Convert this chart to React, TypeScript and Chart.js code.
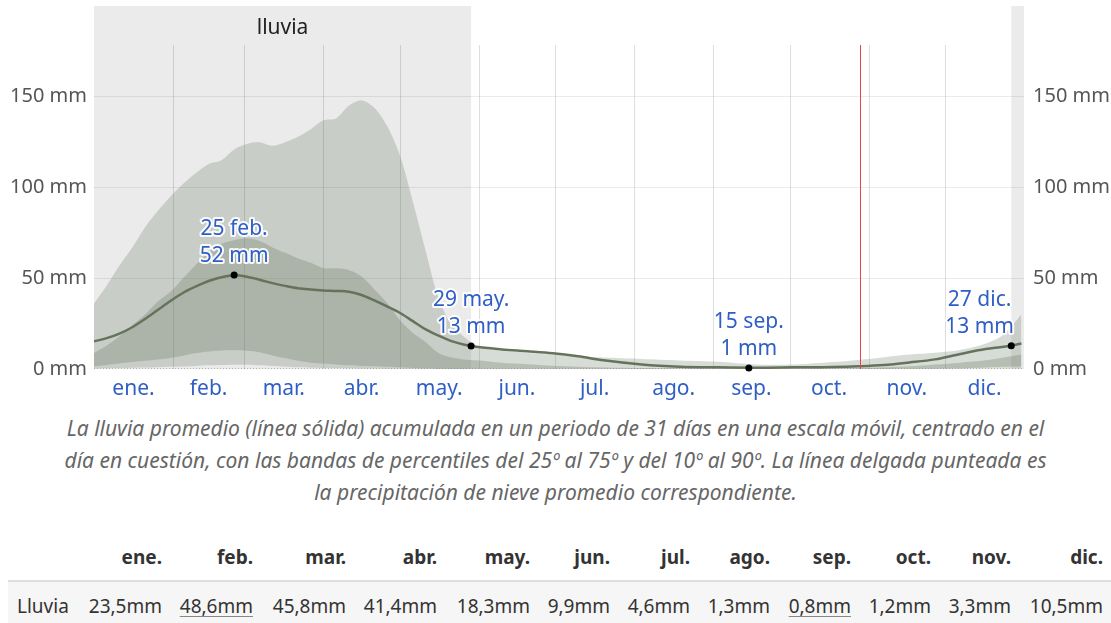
import React, { useEffect, useRef } from "react";
import { Chart, registerables } from "chart.js";

Chart.register(...registerables);

// ---- data (day of year, 0 = 1 ene.) ----
const DAYS = [0, 5, 10, 15, 20, 25, 30, 35, 40, 45, 50, 55, 60, 65, 70, 75, 80, 85, 90, 95, 100, 105, 110, 115, 120, 125, 130, 135, 140, 145, 150, 160, 170, 180, 190, 200, 215, 230, 245, 260, 275, 290, 300, 310, 320, 330, 340, 350, 357, 364];
const RAIN_MEAN = [15.2, 17, 19.5, 23, 27.5, 32.5, 37.5, 42, 45.5, 48.5, 50.5, 51.6, 50.8, 49.2, 47.3, 45.8, 44.5, 43.8, 43.3, 43, 42.6, 40.8, 37.8, 34.5, 31, 26.5, 22, 18.5, 15.5, 13.5, 12.2, 10.8, 9.8, 8.7, 7, 4.8, 2.5, 1.3, 0.9, 0.7, 0.9, 1.1, 1.5, 2.2, 3.6, 5.3, 8.3, 11, 12.3, 14];
const RAIN_P90 = [36, 46, 57, 67, 78, 87, 95, 102, 108, 113, 115, 121, 124, 125, 123, 125, 128, 132, 137, 138, 145, 148, 144, 134, 118, 93, 66, 40, 25, 18, 13, 10, 9, 8, 7, 6.3, 5.5, 4.7, 4, 2.5, 2.5, 3.8, 5, 6.5, 8, 9, 10.5, 14, 19, 30];
const RAIN_P75 = [8.8, 13, 18, 24, 30, 37, 42.5, 50, 57.5, 64, 69, 71, 72, 70.5, 67, 64, 61, 58.5, 55.6, 55.5, 54.5, 51, 44, 36.5, 27, 20, 15, 9, 6.5, 5.3, 4.8, 3.4, 2.6, 1.8, 1.2, 0.8, 0.5, 0.3, 0.3, 0.3, 0.3, 0.3, 0.4, 0.9, 1.5, 2.5, 3.5, 4.8, 6.3, 8];
const RAIN_P25 = [1.5, 2.2, 3, 3.8, 4.5, 5.2, 6, 7.3, 8.8, 9.7, 10.2, 10.3, 10, 9.2, 7.5, 6, 4.5, 3.5, 3, 2.5, 2, 1.7, 1.5, 1.2, 0.9, 0.6, 0.4, 0.2, 0.2, 0.2, 0.2, 0.1, 0.1, 0.1, 0.1, 0.1, 0, 0, 0, 0, 0, 0, 0, 0, 0.1, 0.2, 0.4, 0.8, 1.2, 1.5];
const RAIN_P10 = [0.3, 0.4, 0.5, 0.7, 0.8, 1, 1.2, 1.4, 1.7, 2, 2.2, 2.4, 2.3, 2, 1.6, 1.2, 0.9, 0.7, 0.6, 0.5, 0.4, 0.3, 0.3, 0.2, 0.1, 0.1, 0, 0, 0, 0, 0, 0, 0, 0, 0, 0, 0, 0, 0, 0, 0, 0, 0, 0, 0, 0, 0, 0.1, 0.2, 0.3];
const SNOW_DAYS = [0, 365];
const SNOW_MEAN = [0, 0];

const MONTHS = ["ene.", "feb.", "mar.", "abr.", "may.", "jun.", "jul.", "ago.", "sep.", "oct.", "nov.", "dic."];
const MONTH_START_DAYS = [0, 31, 59, 90, 120, 151, 181, 212, 243, 273, 304, 334, 365];
const Y_TICKS = [0, 50, 100, 150];
const Y_MAX = 200;
const WET_SEASONS = [[0, 148], [360, 365]];
const WET_LABEL = "lluvia";
const TODAY_DAY = 300.5;

const ANNOT_DAYS = [55, 148, 257, 360];
const ANNOT_VALUES = [51.8, 12.7, 0.5, 12.8];
const ANNOT_LABELS = [["25 feb.", "52 mm"], ["29 may.", "13 mm"], ["15 sep.", "1 mm"], ["27 dic.", "13 mm"]];

const TABLE_ROW_LABEL = "Lluvia";
const TABLE_VALUES = ["23,5mm", "48,6mm", "45,8mm", "41,4mm", "18,3mm", "9,9mm", "4,6mm", "1,3mm", "0,8mm", "1,2mm", "3,3mm", "10,5mm"];
const TABLE_UNDERLINED = [1, 8];

const CAPTION_LINES = [
  "La lluvia promedio (línea sólida) acumulada en un periodo de 31 días en una escala móvil, centrado en el",
  "día en cuestión, con las bandas de percentiles del 25º al 75º y del 10º al 90º. La línea delgada punteada es",
  "la precipitación de nieve promedio correspondiente.",
];

// ---- layout ----
const FONT = "'Noto Sans', 'Open Sans', sans-serif";
const BLUE = "#2f5fc4";
const COL_RIGHT = [162, 253, 346, 437, 530, 610, 690, 770, 851, 931, 1011, 1103];

const pts = (xs: number[], ys: number[]) => xs.map((x, i) => ({ x, y: ys[i] }));

const decorPlugin = {
  id: "decor",
  beforeDraw(chart: any) {
    const { ctx, chartArea } = chart;
    const xs = chart.scales.x;
    ctx.save();
    ctx.fillStyle = "#ebebeb";
    WET_SEASONS.forEach(([a, b]) => {
      const x0 = xs.getPixelForValue(a);
      const x1 = xs.getPixelForValue(b);
      ctx.fillRect(x0, chartArea.top, x1 - x0, chartArea.bottom - chartArea.top);
    });
    const [a, b] = WET_SEASONS[0];
    ctx.fillStyle = "#222";
    ctx.font = `21px ${FONT}`;
    ctx.textAlign = "center";
    ctx.textBaseline = "middle";
    ctx.fillText(WET_LABEL, (xs.getPixelForValue(a) + xs.getPixelForValue(b)) / 2, chartArea.top + 22);
    ctx.strokeStyle = "rgba(0,0,0,0.13)";
    ctx.lineWidth = 1;
    MONTH_START_DAYS.slice(1, 12).forEach((d) => {
      const x = Math.round(xs.getPixelForValue(d)) + 0.5;
      ctx.beginPath();
      ctx.moveTo(x, chartArea.top + 39);
      ctx.lineTo(x, chartArea.bottom);
      ctx.stroke();
    });
    ctx.restore();
  },
  afterDatasetsDraw(chart: any) {
    const { ctx, chartArea } = chart;
    const xs = chart.scales.x;
    const ys = chart.scales.y;
    ctx.save();
    const tx = Math.round(xs.getPixelForValue(TODAY_DAY)) + 0.5;
    ctx.strokeStyle = "#f04040";
    ctx.lineWidth = 1;
    ctx.beginPath();
    ctx.moveTo(tx, chartArea.top + 39);
    ctx.lineTo(tx, chartArea.bottom);
    ctx.stroke();
    ctx.font = `21px ${FONT}`;
    ctx.textBaseline = "middle";
    ctx.textAlign = "center";
    ANNOT_DAYS.forEach((d, i) => {
      const px = xs.getPixelForValue(d);
      const py = ys.getPixelForValue(ANNOT_VALUES[i]);
      ctx.fillStyle = "#000";
      ctx.beginPath();
      ctx.arc(px, py, 3.5, 0, Math.PI * 2);
      ctx.fill();
      const lines = ANNOT_LABELS[i];
      const w = Math.max(...lines.map((l) => ctx.measureText(l).width));
      let cx = px;
      if (cx + w / 2 > chartArea.right - 10) cx = chartArea.right - 10 - w / 2;
      lines.forEach((l, j) => {
        const cy = py - 19 - (lines.length - 1 - j) * 27;
        ctx.strokeStyle = "rgba(255,255,255,0.9)";
        ctx.lineWidth = 4;
        ctx.lineJoin = "round";
        ctx.strokeText(l, cx, cy);
        ctx.fillStyle = BLUE;
        ctx.fillText(l, cx, cy);
      });
    });
    ctx.restore();
  },
};

const zeroPad = (s: any) => {
  s.paddingTop = 0;
  s.paddingBottom = 0;
  s.paddingLeft = 0;
  s.paddingRight = 0;
};

function RainChart() {
  const ref = useRef<HTMLCanvasElement | null>(null);
  useEffect(() => {
    if (!ref.current) return;
    const band = "rgba(105,120,95,0.26)";
    const inner = "rgba(105,120,95,0.30)";
    const chart = new Chart(ref.current, {
      type: "line",
      data: {
        datasets: [
          { data: pts(DAYS, RAIN_P90), borderWidth: 0, pointRadius: 0, fill: { target: 1 }, backgroundColor: band, tension: 0.3, order: 5 } as any,
          { data: pts(DAYS, RAIN_P10), borderWidth: 0, pointRadius: 0, fill: false, tension: 0.3, order: 5 },
          { data: pts(DAYS, RAIN_P75), borderWidth: 0, pointRadius: 0, fill: { target: 3 }, backgroundColor: inner, tension: 0.3, order: 4 } as any,
          { data: pts(DAYS, RAIN_P25), borderWidth: 0, pointRadius: 0, fill: false, tension: 0.3, order: 4 },
          { data: pts(DAYS, RAIN_MEAN), borderColor: "#66735c", borderWidth: 2.5, pointRadius: 0, fill: false, cubicInterpolationMode: "monotone", order: 1 } as any,
          { data: pts(SNOW_DAYS, SNOW_MEAN), borderColor: "#777", borderWidth: 1, borderDash: [1, 2], pointRadius: 0, fill: false, order: 2 },
        ],
      },
      options: {
        animation: false,
        responsive: false,
        maintainAspectRatio: false,
        parsing: false as any,
        normalized: true,
        layout: { padding: { top: 6, left: 0, right: 0, bottom: 0 } },
        plugins: { legend: { display: false }, tooltip: { enabled: false } },
        scales: {
          x: {
            type: "linear",
            min: 0,
            max: 365,
            border: { display: false },
            grid: { display: false, drawTicks: false },
            afterBuildTicks: (s: any) => {
              s.ticks = MONTHS.map((_, i) => ({ value: (MONTH_START_DAYS[i] + MONTH_START_DAYS[i + 1]) / 2 }));
            },
            afterFit: (s: any) => { s.height = 31; zeroPad(s); },
            ticks: {
              autoSkip: false,
              maxRotation: 0,
              padding: 7,
              color: BLUE,
              font: { size: 21, family: FONT },
              callback: (_v: any, i: number) => MONTHS[i],
            },
          },
          y: {
            position: "left",
            min: 0,
            max: Y_MAX,
            border: { display: false },
            afterBuildTicks: (s: any) => { s.ticks = Y_TICKS.map((v) => ({ value: v })); },
            afterFit: (s: any) => { s.width = 94; zeroPad(s); },
            grid: {
              drawTicks: false,
              color: (c: any) => (c.tick && c.tick.value === 0 ? "rgba(0,0,0,0)" : "rgba(0,0,0,0.08)"),
            },
            ticks: { padding: 7, color: "#555", font: { size: 20, family: FONT }, callback: (v: any) => `${v} mm` },
          },
          y2: {
            position: "right",
            min: 0,
            max: Y_MAX,
            border: { display: false },
            afterBuildTicks: (s: any) => { s.ticks = Y_TICKS.map((v) => ({ value: v })); },
            afterFit: (s: any) => { s.width = 87; zeroPad(s); },
            grid: { display: false, drawTicks: false },
            ticks: { padding: 9, color: "#555", font: { size: 20, family: FONT }, callback: (v: any) => `${v} mm` },
          },
        },
      } as any,
      plugins: [decorPlugin],
    });
    return () => chart.destroy();
  }, []);
  return <canvas ref={ref} width={1111} height={400} style={{ position: "absolute", left: 0, top: 0, width: 1111, height: 400 }} />;
}

export default function App() {
  useEffect(() => {
    document.body.style.margin = "0";
  }, []);
  const cell = (top: number, right: number, content: React.ReactNode, bold: boolean, key: string) => (
    <div
      key={key}
      style={{
        position: "absolute",
        top: top - 15,
        right: 1111 - right,
        height: 30,
        lineHeight: "30px",
        fontSize: 19,
        fontWeight: bold ? 700 : 400,
        color: "#333",
        whiteSpace: "nowrap",
      }}
    >
      {content}
    </div>
  );
  return (
    <div style={{ position: "relative", width: 1111, height: 623, fontFamily: FONT, overflow: "hidden", background: "#fff" }}>
      <RainChart />
      <div
        style={{
          position: "absolute",
          top: 412,
          left: 0,
          width: 1111,
          textAlign: "center",
          fontStyle: "italic",
          fontSize: 21,
          lineHeight: "32px",
          color: "#666",
          whiteSpace: "nowrap",
        }}
      >
        {CAPTION_LINES.map((l, i) => (
          <div key={i}>{l}</div>
        ))}
      </div>
      {MONTHS.map((m, i) => cell(557, COL_RIGHT[i], m, true, "h" + i))}
      <div style={{ position: "absolute", left: 8, top: 580, width: 1103, height: 50, background: "#f6f6f6", borderTop: "2px solid #dedede" }} />
      <div style={{ position: "absolute", left: 17, top: 606 - 15, height: 30, lineHeight: "30px", fontSize: 19, color: "#333" }}>{TABLE_ROW_LABEL}</div>
      {TABLE_VALUES.map((v, i) =>
        cell(
          606,
          COL_RIGHT[i],
          TABLE_UNDERLINED.includes(i) ? (
            <span style={{ textDecoration: "underline", textDecorationColor: "#888", textUnderlineOffset: 3 }}>{v}</span>
          ) : (
            v
          ),
          false,
          "v" + i
        )
      )}
    </div>
  );
}
